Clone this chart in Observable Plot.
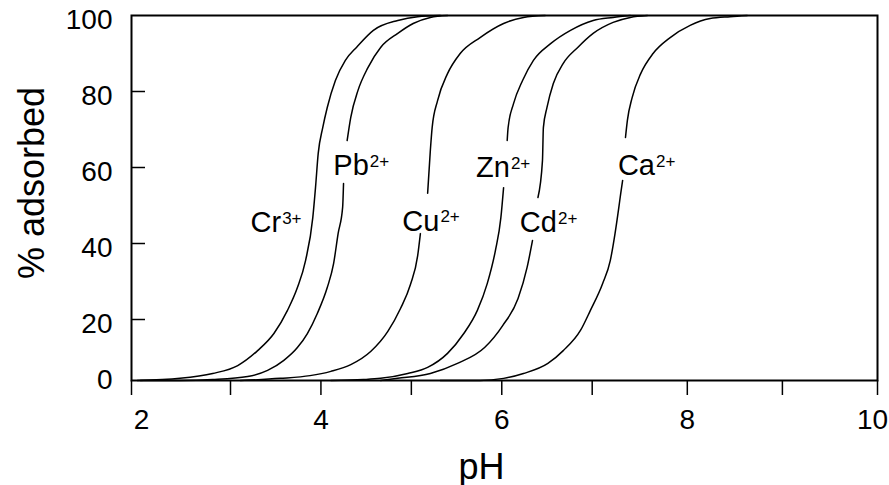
<!DOCTYPE html>
<html><head><meta charset="utf-8">
<script src="https://cdn.jsdelivr.net/npm/d3@7"></script>
<script src="https://cdn.jsdelivr.net/npm/@observablehq/plot@0.6"></script>
<style>body{margin:0;background:#fff}</style>
</head><body><div id="chart"></div>
<script>
// Ions and their charges
const ions = ["Cr", "Pb", "Cu", "Zn", "Cd", "Ca"];
const charges = ["3+", "2+", "2+", "2+", "2+", "2+"];

// Curves (pH vs % adsorbed); null marks a break where a label sits
const pH_Cr  = [2.06,2.49,2.82,3.08,3.30,3.48,3.63,3.74,3.83,3.91,3.94,3.97,4.02,4.07,4.16,4.27,4.40,4.58,4.85,5.07,5.32];
const ads_Cr = [0,0.7,2.3,4.9,9.8,15.4,22.4,28.4,35.5,46.8,54.7,63.7,70.5,75.8,82.9,88.2,91.8,96.1,98.7,99.7,100];

const pH_Pb  = [2.09,2.49,2.82,3.19,3.41,3.59,3.74,3.85,3.96,4.07,4.14,4.19,4.24,4.25,null,4.29,4.33,4.41,4.52,4.66,4.85,5.02,5.21,5.40];
const ads_Pb = [0,0,0.3,1.3,3.3,6.6,10.8,15.4,21.6,28.4,34.7,42.6,49.5,55.8,null,67.1,73.2,80.3,86.3,91.6,95.3,97.9,99.5,100];

const pH_Cu  = [3.11,3.55,3.88,4.11,4.33,4.55,4.74,4.88,4.99,5.07,5.10,null,5.18,5.21,5.23,5.29,5.40,5.54,5.76,6.02,6.24,6.48];
const ads_Cu = [0,0.7,1.6,3.0,5.2,9.5,16.1,22.9,29.2,36.8,42.6,null,53.2,64.5,70.5,77.6,84.7,90.0,94.2,97.9,99.5,100];

const pH_Zn  = [4.11,4.47,4.66,4.96,5.18,5.40,5.58,5.73,5.84,5.93,5.99,6.02,null,6.06,6.07,6.13,6.23,6.35,6.54,6.76,7.01,7.22,7.40];
const ads_Zn = [0,0.3,0.7,2.3,4.3,8.9,15.4,22.4,29.5,38.2,46.8,54.7,null,67.1,70.5,76.8,82.9,88.2,92.6,96.1,98.7,99.5,100];

const pH_Cd  = [4.66,4.85,5.21,5.51,5.81,6.01,6.18,6.28,6.34,null,6.40,6.45,6.46,6.50,6.57,6.68,6.84,7.01,7.22,7.40,7.58];
const ads_Cd = [0,0.7,2.3,5.6,10.8,18.0,25.5,33.7,40.8,null,52.1,61.8,70.5,75.8,82.1,87.4,91.6,95.3,98.2,99.5,100];

const pH_Ca  = [5.32,5.76,6.02,6.24,6.51,6.68,6.87,6.98,7.11,7.19,7.24,7.28,7.30,7.32,null,7.35,7.37,7.42,7.51,7.64,7.82,8.03,8.24,8.45,8.63];
const ads_Ca = [0,0,0.7,2.3,5.6,9.8,16.4,22.4,29.5,35.5,42.6,49.5,53.2,56.6,null,67.9,72.4,78.4,84.7,90.0,94.2,97.4,99.2,99.7,100];

// Label anchor points (junction of symbol and superscript, on the baseline)
const labelPH  = [3.56, 4.53, 5.31, 6.09, 6.61, 7.66];
const labelAds = [42.9, 57.9, 43.4, 57.4, 42.9, 57.9];

// Axis ticks
const xTicks = [2, 3, 4, 5, 6, 7, 8, 9, 10];
const xTickLabelsMid = [4, 6, 8];
const xTickLabelFirst = [2];
const xTickLabelLast = [10];
const yTickLabels = [20, 40, 60, 80, 100];
const yTickLabelZero = [0];
const yInnerTicks = [20, 40, 60, 80];

// The original axes are slightly non-uniform; piecewise warps used as scale transforms
const xWarp = d3.scaleLinear().domain([2, 3, 7, 10]).range([2, 3.0617, 6.9405, 10]);
const yWarp = d3.scaleLinear().domain([0, 20, 100]).range([0, 16.71, 100]);

const series = {
  Cr: [pH_Cr, ads_Cr], Pb: [pH_Pb, ads_Pb], Cu: [pH_Cu, ads_Cu],
  Zn: [pH_Zn, ads_Zn], Cd: [pH_Cd, ads_Cd], Ca: [pH_Ca, ads_Ca]
};
const rows = [];
for (const ion of ions) {
  const [xs, ys] = series[ion];
  xs.forEach((x, i) => rows.push({ion, pH: x == null ? NaN : x, ads: ys[i] == null ? NaN : ys[i]}));
}
const labels = ions.map((ion, i) => ({ion, charge: charges[i], pH: labelPH[i], ads: labelAds[i]}));

const W = 889, H = 485, ML = 131, MR = 12, MT = 15, MB = 105;
const tickFont = 28;

const chart = Plot.plot({
  width: W, height: H,
  marginLeft: ML, marginRight: MR, marginTop: MT, marginBottom: MB,
  style: {fontFamily: "'Liberation Sans', Arial, sans-serif", background: "white", color: "black", overflow: "visible"},
  x: {domain: [2, 10], transform: d => (d == null || isNaN(d)) ? NaN : xWarp(d), label: null},
  y: {domain: [0, 100], transform: d => (d == null || isNaN(d)) ? NaN : yWarp(d), label: null},
  marks: [
    Plot.line(rows, {x: "pH", y: "ads", z: "ion", curve: "monotone-x", stroke: "black", strokeWidth: 1.5}),
    Plot.frame({stroke: "black", strokeWidth: 2}),
    Plot.tickY(yInnerTicks, {y: d => d, stroke: "black", strokeWidth: 1.5, insetRight: (W - ML - MR) - 14}),
    Plot.axisX(xTicks, {tickSize: 15, tickFormat: () => "", strokeWidth: 1.5, label: null}),
    Plot.axisX(xTickLabelsMid, {tickSize: 0, tickPadding: 29, fontSize: tickFont, label: null}),
    Plot.axisX(xTickLabelFirst, {tickSize: 0, tickPadding: 29, fontSize: tickFont, dx: 10, label: null}),
    Plot.axisX(xTickLabelLast, {tickSize: 0, tickPadding: 29, fontSize: tickFont, dx: -5, label: null}),
    Plot.axisY(yTickLabels, {tickSize: 0, tickPadding: 19, fontSize: tickFont, dy: 5, label: null}),
    Plot.axisY(yTickLabelZero, {tickSize: 0, tickPadding: 19, fontSize: tickFont, dy: 0, label: null}),
    Plot.text(labels, {x: "pH", y: "ads", text: "ion", textAnchor: "end", lineAnchor: "bottom", fontSize: 29, fill: "black"}),
    Plot.text(labels, {x: "pH", y: "ads", text: "charge", textAnchor: "start", lineAnchor: "bottom", fontSize: 17, dx: 1, dy: -8.5, fill: "black"}),
    Plot.text(["% adsorbed"], {frameAnchor: "left", rotate: -90, textAnchor: "middle", lineAnchor: "bottom", dx: -88, dy: -15, fontSize: 36, fill: "black"}),
    Plot.text(["pH"], {frameAnchor: "bottom", textAnchor: "middle", lineAnchor: "bottom", dx: -23, dy: 98, fontSize: 36, fill: "black"})
  ]
});
document.getElementById("chart").appendChild(chart);
</script>
</body></html>
